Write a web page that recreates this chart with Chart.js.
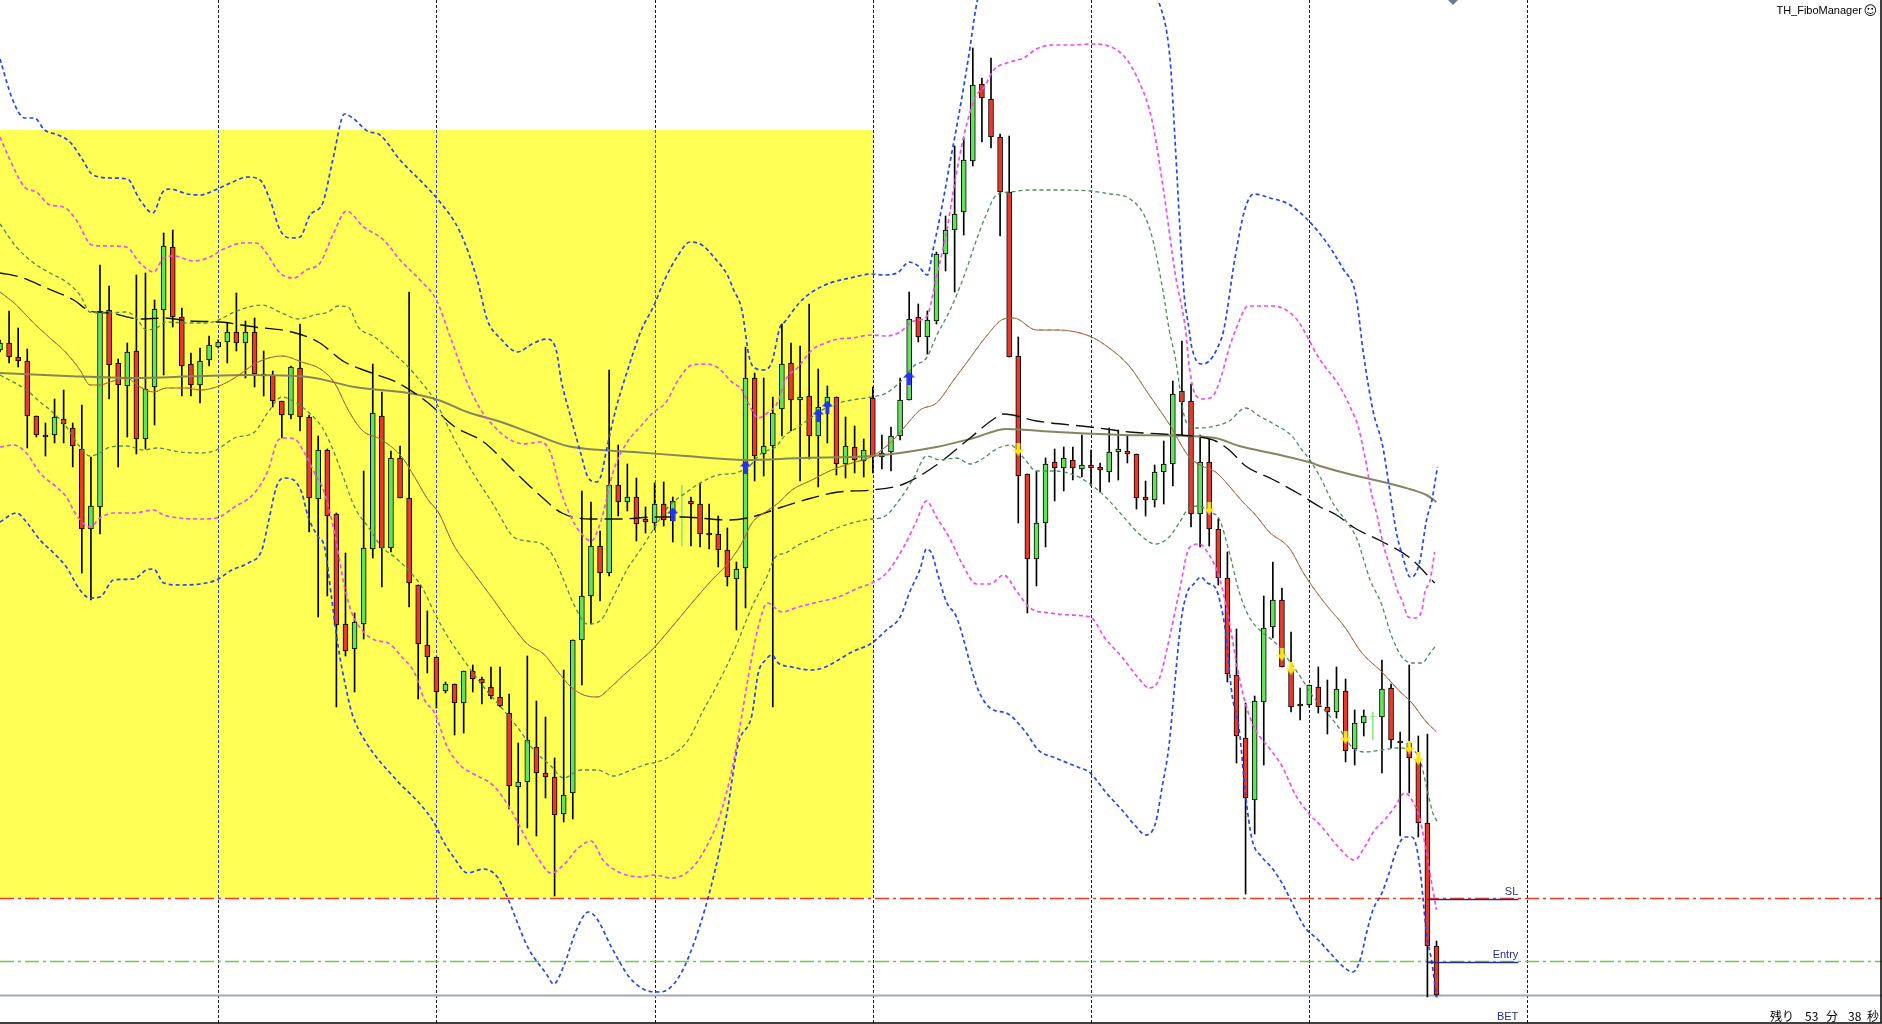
<!DOCTYPE html>
<html><head><meta charset="utf-8">
<script src="https://cdn.jsdelivr.net/npm/chart.js@4.4.1/dist/chart.umd.min.js"></script>
<style>html,body{margin:0;padding:0;background:#fff;overflow:hidden}#wrap{position:relative;width:1882px;height:1024px}</style>
</head><body><div id="wrap"><canvas id="c"></canvas></div>
<script>
// ---- candles (H1 bars, index 0..158) ----
const open  = [674,681,667,663,608,589,589,605,596,575,495,517,714,661,638,673,585,637,714,777,707,660,639,664,677,682,692,681,692,650,649,623,609,656,607,525,574,510,400,375,400,475,608,476,566,526,439,379,367,333,340,321,353,345,337,327,311,237,242,277,251,247,210,231,384,428,478,451,539,522,527,505,501,520,503,507,523,520,491,490,474,445,456,646,570,578,615,661,624,628,588,617,627,560,577,563,626,567,572,588,624,707,687,703,770,794,812,863,940,925,887,832,668,550,465,501,562,556,564,555,559,557,552,572,573,570,527,524,552,560,633,623,510,562,495,446,349,286,224,322,397,424,354,320,319,337,317,312,333,275,301,307,307,336,283,281,264,201,78];
const high  = [684,713,696,675,608,601,625,634,601,619,567,759,738,665,681,749,751,724,791,794,716,671,676,688,684,701,731,703,706,673,653,623,658,700,609,588,575,511,471,411,553,660,632,573,578,732,439,413,367,342,340,353,359,347,357,357,330,281,368,323,307,266,354,384,533,522,493,654,579,560,546,517,541,542,527,539,527,541,520,508,496,462,677,651,646,627,700,681,678,720,655,638,627,607,598,585,637,589,597,646,732,720,713,772,808,878,886,976,946,966,890,888,687,550,553,566,575,577,577,589,574,561,596,594,589,570,543,559,583,643,683,640,589,585,505,472,395,321,328,428,462,436,392,336,339,357,344,357,345,314,314,312,364,340,292,359,288,290,83];
const low   = [672,661,657,576,587,568,581,581,557,451,424,490,625,557,587,570,575,599,649,697,628,628,621,658,676,661,673,646,637,628,617,586,605,593,492,407,428,317,368,332,385,466,437,472,526,417,325,351,316,331,289,291,332,320,325,317,215,179,196,188,226,128,202,205,339,400,423,448,508,513,483,491,494,498,482,478,478,477,475,457,438,394,416,543,548,317,588,593,543,565,537,581,549,546,551,547,551,555,553,584,624,682,670,700,753,732,789,858,882,876,788,667,501,411,438,477,523,533,544,547,538,532,542,544,561,515,508,517,520,538,589,497,477,478,439,342,261,130,190,259,386,357,312,304,317,311,290,306,262,259,288,284,251,276,188,231,187,27,27];
const close = [681,667,663,608,589,587,607,600,578,495,518,713,659,639,672,585,635,715,778,707,658,639,663,679,682,692,681,692,650,648,623,609,657,607,526,574,508,399,373,402,476,611,476,566,526,441,380,367,332,340,321,353,345,341,328,318,238,242,284,251,247,209,229,384,428,478,451,539,522,527,500,502,520,504,523,507,520,490,489,474,447,455,646,568,578,611,660,624,627,588,617,627,560,578,564,574,567,571,588,624,705,687,704,770,794,810,864,939,926,887,832,667,548,465,501,560,556,566,556,559,556,554,572,575,570,526,524,552,560,630,622,510,562,495,446,350,288,226,323,396,424,357,317,318,339,317,312,335,273,301,308,307,335,284,281,266,201,78,29];

// ---- day separators (bar index at start of each day) ----
const daySeparators = [24,48,72,96,120,144,168];

// ---- highlighted zone, order levels ----
const zoneFrom = -2, zoneTo = 96, zoneTop = 894, zoneBottom = 126;
const stopLoss = 126, entryLevel = 63;
const orderFrom = 157, orderTo = 167;

// ---- signal arrows ----
const buyIdx  = [74, 82, 90, 91, 100];
const buyVal  = [510, 557, 609, 617, 646];
const sellIdx = [112, 133, 141, 142, 148, 155, 156];
const sellVal = [575, 516, 370, 356, 287, 277, 266];

// ---- Bollinger bands & moving averages, [barIndex, value] ----
const bbUpper3 = [[0,965],[1.4,924],[2.7,906],[3.8,906],[4.9,894],[6.4,889],[7.7,882],[9.1,864],[10.1,850],[12.1,846],[14,845],[15.4,824],[16.8,811],[17.9,832],[18.7,835],[20.6,830],[22,829],[23.9,835],[25.6,842],[27.2,847],[28.6,844],[29.7,824],[30.8,794],[31.9,786],[33,787],[34.1,809],[35.5,821],[36.6,864],[37.9,910],[38.8,906],[40.4,893],[41.8,889],[44,864],[46.5,841],[48.4,822],[50.6,792],[52.5,744],[53.6,704],[55.1,685],[56.9,672],[58.7,681],[60.2,685],[61.2,673],[61.7,645],[62.8,606],[63.9,570],[64.6,548],[65.6,542],[66.1,548],[66.8,578],[67.8,617],[69,653],[70.5,693],[71.9,718],[73.1,744],[74.6,769],[75.9,782],[77.2,779],[78.6,766],[80,749],[80.7,734],[81.6,714],[82.4,667],[83,656],[84,654],[84.9,662],[85.8,697],[86.3,702],[87.9,721],[89.3,732],[91.3,741],[93.5,746],[95.9,750],[97.1,749],[98.7,751],[100,762],[101,758],[102,749],[102.6,773],[103.6,817],[104.5,862],[105.4,906],[106.1,943],[106.7,977],[107.3,1014],[108.3,1054],[110,1094],[115.5,1124],[121,1114],[125.4,1064],[127.4,1024],[128.7,964],[129.3,874],[130.2,734],[130.8,694],[131.1,676],[132.1,660],[133,663],[133.9,676],[134.6,694],[135.8,764],[136.9,814],[137.9,830],[139.7,826],[141.9,819],[145.2,790],[147.8,754],[149.1,730],[150,668],[151,614],[152.1,577],[152.9,531],[153.6,491],[154.3,467],[155.1,447],[155.6,449],[156.2,464],[156.9,504],[157.5,524],[158.1,557]];
const bbLower3 = [[0,502],[1.8,511],[2.9,502],[4.4,484],[5.9,471],[7.3,457],[8.8,434],[9.9,426],[11,427],[12.5,444],[14.7,445],[16.1,454],[16.9,455],[18,441],[19.8,439],[22,440],[23.8,444],[25.5,454],[27.3,461],[28.8,474],[29.5,501],[30.4,537],[31.2,546],[32.3,544],[33.2,531],[33.9,507],[35,487],[35.7,477],[36.5,424],[37.2,377],[38.1,334],[38.7,311],[40.1,284],[43.6,244],[46.2,220],[47.7,202],[48.8,182],[49.9,167],[51.4,151],[53.2,155],[54.7,147],[55.6,131],[58.1,76],[60.1,50],[60.9,40],[62,58],[63.4,94],[64.7,112],[65.6,106],[67.3,76],[69.3,46],[71.3,33],[72.6,32],[74.6,46],[76.6,88],[78.5,148],[79.9,208],[81.2,280],[82.7,309],[83.4,351],[84.2,364],[84.9,369],[85.6,361],[87.1,357],[89.3,354],[90.8,357],[92.2,364],[93.7,372],[95.9,381],[97.5,394],[99,407],[100.1,433],[101.2,455],[101.9,475],[102.5,470],[103.2,448],[104.1,422],[105.2,407],[107.6,334],[108.9,316],[110.9,310],[112.8,292],[114.2,274],[116.1,266],[118.8,256],[119.8,252],[121.6,232],[123.4,214],[124.9,198],[126,189],[127.1,201],[127.8,236],[128.6,280],[129.3,349],[129.9,403],[130.6,432],[131.3,440],[132.1,447],[132.8,441],[133.7,436],[134.3,418],[134.8,392],[135.5,330],[136.3,294],[137,229],[137.7,185],[138.8,167],[139.9,156],[141,141],[141.8,127],[143.5,97],[145,84],[146.5,69],[147.9,56],[148.8,52],[149.6,64],[150.3,91],[151,114],[152,131],[152.9,154],[153.6,174],[154.5,187],[155.3,187],[155.8,177],[156.2,154],[156.5,127],[156.9,91],[157.5,61],[158,27]];
const bbUpper2 = [[0,887],[1.1,864],[2.7,837],[4,832],[5.5,819],[7,817],[8.4,804],[10.1,779],[12.1,778],[13.9,777],[15.4,761],[16.9,752],[18,766],[19.1,768],[21.3,763],[23.1,767],[24.6,775],[26.8,781],[28.2,781],[29.3,771],[30.8,751],[32.3,746],[33.7,754],[35.2,761],[36.7,791],[38.1,813],[40,797],[42.2,784],[44,764],[46.2,744],[48,724],[49.6,685],[51.4,641],[52.9,614],[54.3,598],[55.8,586],[57.6,580],[59.5,582],[60.6,570],[61.5,538],[62.8,507],[63.9,491],[65,483],[66.1,503],[67.5,554],[69,582],[70.5,598],[71.9,612],[73.2,621],[74.6,644],[76.1,659],[77.6,660],[79,656],[80.5,642],[81.6,634],[82.3,621],[83.4,606],[84.4,611],[85.5,621],[86.4,644],[87.8,657],[89.3,674],[90.8,681],[92.2,685],[93.7,686],[95.9,689],[97.5,688],[99,692],[100.5,703],[101.9,707],[103,747],[104.1,792],[105.2,851],[106.3,899],[107.4,929],[108.2,936],[109.3,954],[111.1,962],[112.6,966],[114,975],[115.8,979],[118,979],[119.9,980],[123.4,970],[125.4,940],[126.7,904],[128,832],[129.3,748],[130.4,694],[130.8,658],[131.5,629],[132.4,625],[133.5,629],[134.3,647],[135.2,676],[135.9,694],[137.3,718],[139.9,718],[142.5,706],[145.2,664],[147.4,637],[148.5,617],[149.4,597],[149.9,577],[150.4,554],[150.7,537],[151.5,507],[152.1,481],[152.9,457],[153.8,431],[154.2,424],[154.9,407],[155.6,406],[156.4,414],[156.7,431],[157.3,444],[157.8,472]];
const bbLower2 = [[0,577],[1.5,579],[2.9,571],[4.4,551],[6.2,537],[7.3,527],[8.4,509],[9.9,497],[11,506],[12.5,511],[14.7,511],[16.9,514],[18,509],[19.8,506],[22,505],[23.8,506],[25.8,517],[28,531],[29.5,554],[30.6,584],[31.3,586],[32.4,585],[33.5,571],[34.6,551],[35.7,531],[36.8,491],[37.9,437],[38.7,411],[39.8,394],[41.2,384],[42.7,381],[44.2,367],[45.6,351],[46.7,324],[47.8,311],[49.2,277],[50.7,258],[52.1,250],[54.3,238],[56.2,214],[57.6,190],[59.1,167],[60.6,151],[62,159],[63.5,175],[65,183],[66.4,163],[68.3,151],[70.5,147],[71.9,149],[73.9,146],[75.9,154],[77.5,174],[79.2,209],[80.5,254],[81.6,309],[82.3,347],[83.4,397],[84.4,421],[86,412],[87.8,417],[90,422],[92.2,427],[94.4,436],[95.9,441],[97.5,451],[99.4,477],[100.8,503],[101.9,523],[103,507],[104.5,485],[105.9,459],[107.4,440],[108.9,440],[110.4,449],[111.8,433],[113.3,416],[115.5,411],[117.7,409],[119.9,407],[121.6,385],[123.4,367],[125.3,345],[126.4,336],[127.5,345],[128.6,385],[129.7,432],[130.8,476],[131.9,480],[133,469],[134.1,447],[135.2,403],[136.1,356],[137,320],[138.1,294],[139.6,276],[141,258],[142.5,229],[144,210],[145.4,197],[147.2,177],[149,164],[150.1,177],[151.2,194],[152.3,204],[153.4,217],[154.5,231],[155.3,224],[156.2,204],[156.9,171],[157.6,134],[158,114]];
const bbUpper1 = [[0,800],[1.8,777],[3.7,761],[5.5,751],[7.3,742],[8.8,729],[9.9,712],[11.7,711],[13.9,712],[15,706],[16.1,694],[17.2,696],[18.3,702],[20.5,701],[22.7,701],[24,704],[25.8,712],[28.8,719],[31,711],[32.8,705],[34.6,709],[36.1,712],[37.2,718],[38.3,717],[39.4,697],[41.2,687],[43.1,672],[44.9,657],[46.4,641],[47.8,624],[49.9,586],[52.1,550],[54.3,519],[56.5,487],[58,483],[59.8,479],[60.9,467],[62,444],[63.1,420],[64.6,400],[66.1,404],[67.5,428],[69,455],[70.5,475],[71.9,495],[73.5,517],[75.4,531],[77.6,544],[79,549],[80.9,551],[82.3,557],[83.8,571],[85.3,577],[86.4,589],[87.8,597],[89.3,607],[90.8,616],[92.2,621],[93.7,624],[95.9,627],[97.5,631],[99,642],[100.5,658],[101.9,666],[103,688],[104.5,714],[106,747],[107.4,784],[108.5,810],[109.6,829],[111.1,832],[113.3,834],[116.2,834],[119.9,833],[122.1,830],[124.3,825],[126.5,794],[127.9,734],[128.6,694],[129.3,665],[130.2,610],[130.8,598],[131.9,596],[133.7,598],[135.2,603],[137,616],[138.5,608],[140.3,599],[142.1,588],[143.2,574],[144,565],[145.2,547],[146.6,521],[148.2,501],[149.3,484],[150,464],[150.7,444],[151.9,421],[153.1,387],[154.2,367],[155.3,361],[156.4,361],[157.3,371],[158,379]];
const bbLower1 = [[0,649],[2.9,634],[4.4,622],[5.9,611],[7.3,597],[8.8,577],[9.9,568],[11,571],[12.1,577],[13.9,578],[15.8,574],[17.2,576],[19.8,572],[22,571],[23.8,574],[25.8,586],[28,592],[29.5,612],[31,627],[32.4,622],[33.9,612],[35.4,597],[36.5,577],[37.6,551],[39,517],[40.5,497],[42,477],[43.4,467],[44.9,454],[46.4,437],[47.8,411],[49.2,388],[51,364],[53.2,337],[55.1,317],[56.9,297],[58.7,274],[60.6,258],[62,246],[63.9,254],[65.7,254],[67.5,248],[69.4,254],[71.2,260],[72.3,262],[73.9,269],[75.7,284],[77.2,311],[79,341],[80.9,377],[82.7,417],[84.2,444],[85.3,467],[86.4,471],[87.8,479],[89.7,486],[91.5,494],[93.7,501],[95.9,505],[97.2,507],[99,525],[100.5,546],[101.9,568],[103.4,564],[105.2,566],[106.7,560],[108.2,566],[109.6,575],[111.1,579],[112.6,566],[114,553],[116.2,553],[118.4,548],[119.9,540],[121.6,527],[123.4,509],[125.3,490],[127.1,480],[128.6,487],[129.7,501],[130.8,516],[131.9,518],[133,512],[134.1,505],[135.2,472],[136.3,432],[137.4,407],[138.8,392],[140.3,381],[141.8,363],[143.2,345],[144.3,329],[145.7,314],[147.2,297],[148.7,277],[150.1,272],[152,274],[153.8,276],[155.3,274],[156.2,264],[156.9,237],[157.6,211],[158.1,202]];
const bbMiddle = [[0,732],[1.8,719],[3.7,701],[5.5,686],[7.3,671],[8.8,654],[9.9,639],[11,639],[12.1,642],[13.9,646],[15.4,637],[16.9,632],[18.3,636],[20.5,636],[22,634],[23.8,637],[25.8,646],[28.4,662],[31,668],[33.2,662],[35.4,654],[36.8,641],[38.3,614],[39.8,594],[42,584],[44.2,567],[45.6,547],[47.1,524],[48.2,512],[49.9,479],[52.1,451],[54.3,424],[56.2,400],[58,380],[59.8,370],[61.3,353],[62.8,337],[64.2,329],[65.7,327],[67.2,337],[68.6,349],[70.5,364],[71.8,375],[73.9,397],[76.1,421],[78.3,444],[80.1,461],[81.6,481],[82.7,501],[84.2,512],[85.6,521],[87.1,534],[89.3,544],[91.5,554],[93.7,561],[95.8,567],[97.9,581],[99.4,596],[101.2,614],[103,621],[104.9,644],[106.7,666],[108.5,688],[110.4,705],[111.5,706],[114,694],[116.2,694],[119.8,688],[122,676],[124.2,658],[126.4,629],[128.6,600],[130.8,567],[132.2,558],[133.7,552],[135.2,538],[136.6,523],[138.1,509],[139.6,492],[141.8,476],[143.5,449],[145.7,421],[147.9,397],[149.8,371],[152,352],[153.8,334],[155.3,321],[156.7,304],[158,292]];
const maSlow = [[0,751],[2.2,747],[5.1,736],[8.1,724],[9.9,713],[12.1,711],[15.4,705],[18,706],[20.9,703],[24.2,702],[28,697],[32.1,692],[35,682],[37.9,662],[40.9,651],[43.8,641],[47.1,621],[49.9,598],[53.2,582],[56.2,556],[59.1,531],[61.8,511],[65,505],[68.3,505],[71.9,507],[75,507],[80.1,504],[82.7,507],[86,517],[89.3,526],[92.2,532],[95.9,534],[99.4,540],[103,559],[106.7,586],[109.3,605],[110.4,610],[114,603],[119.9,597],[124.2,592],[127.8,590],[131.9,587],[133.7,583],[135.2,574],[137,558],[139.9,545],[142.9,530],[145.2,517],[147,509],[149,496],[152.1,482],[155.1,466],[157.8,441]];
const maLong = [[0,651],[7.3,648],[14.7,646],[22,648],[27.3,649],[33.9,647],[39,637],[44.9,631],[48.2,624],[51.4,612],[55.1,602],[58.7,590],[62.4,578],[66.1,574],[69.7,572],[75.4,568],[82,564],[88.2,566],[95.9,568],[103,577],[107.1,586],[110.7,595],[116.2,592],[123.4,589],[130.8,588],[133.7,586],[136.3,578],[140.3,570],[144.3,561],[145.2,558],[148.8,549],[152.6,541],[155.4,534],[156.9,529],[158,522]];

// ---- styling ----
const BULL = '#63e35b', BEAR = '#e8392b', DOJI = '#8ee88a';
const pts = a => a.map(([x, y]) => ({x, y}));
const idx = open.map((_, i) => i);
const bodyColor = idx.map(i => close[i] > open[i] ? BULL : (close[i] < open[i] ? BEAR : DOJI));
const bodyBorder = idx.map(i => close[i] === open[i] ? DOJI : '#000');
const wickColor = idx.map(i => close[i] === open[i] ? DOJI : '#000');

function arrowImg(color, up) {
  const c = document.createElement('canvas'); c.width = 11; c.height = 13;
  const g = c.getContext('2d'); g.fillStyle = color; g.beginPath();
  if (up) { g.moveTo(5.5,0); g.lineTo(11,6); g.lineTo(7.5,6); g.lineTo(7.5,13); g.lineTo(3.5,13); g.lineTo(3.5,6); g.lineTo(0,6); }
  else { g.moveTo(5.5,13); g.lineTo(11,7); g.lineTo(7.5,7); g.lineTo(7.5,0); g.lineTo(3.5,0); g.lineTo(3.5,7); g.lineTo(0,7); }
  g.closePath(); g.fill(); return c;
}

function line(label, data, color, dash, width, order) {
  return { type: 'line', label, data: pts(data), borderColor: color, borderDash: dash, borderWidth: width,
    pointRadius: 0, pointHoverRadius: 0, fill: false, cubicInterpolationMode: 'monotone', order };
}

const decor = {
  id: 'decor',
  beforeDatasetsDraw(chart) {
    const {ctx, scales: {x, y}} = chart;
    const W = chart.width, H = chart.height;
    ctx.save();
    const zx0 = x.getPixelForValue(zoneFrom), zx1 = x.getPixelForValue(zoneTo);
    const zy0 = y.getPixelForValue(zoneTop), zy1 = y.getPixelForValue(zoneBottom);
    ctx.fillStyle = '#ffff55';
    ctx.fillRect(zx0, zy0, zx1 - zx0, zy1 - zy0);
    daySeparators.forEach(d => {
      const px = Math.round(x.getPixelForValue(d)) + 0.5;
      ctx.lineWidth = 1; ctx.setLineDash([3, 2]); ctx.strokeStyle = '#1a1a1a';
      ctx.beginPath(); ctx.moveTo(px, 0); ctx.lineTo(px, H); ctx.stroke();
      if (px > zx0 && px < zx1 - 1) {
        ctx.save(); ctx.beginPath(); ctx.rect(zx0, zy0, zx1 - zx0, zy1 - zy0); ctx.clip();
        ctx.setLineDash([3, 2]); ctx.strokeStyle = '#2a3ee8';
        ctx.beginPath(); ctx.moveTo(px, 0); ctx.lineTo(px, H); ctx.stroke(); ctx.restore();
      }
    });
    const hline = (v, color, dash, w) => {
      const py = Math.round(y.getPixelForValue(v)) + 0.5;
      ctx.lineWidth = w; ctx.setLineDash(dash); ctx.strokeStyle = color;
      ctx.beginPath(); ctx.moveTo(0, py); ctx.lineTo(W, py); ctx.stroke();
    };
    hline(close[close.length - 1], '#a2aab2', [], 2);
    hline(stopLoss, '#f03a20', [14, 4, 3, 4], 1.5);
    hline(entryLevel, '#66d03a', [14, 4, 3, 4], 1.5);
    ctx.restore();
  },
  afterDatasetsDraw(chart) {
    const {ctx, scales: {x, y}} = chart;
    const W = chart.width, H = chart.height;
    ctx.save();
    const ox0 = x.getPixelForValue(orderFrom), ox1 = x.getPixelForValue(orderTo);
    ctx.strokeStyle = '#24308a'; ctx.lineWidth = 1.5; ctx.setLineDash([]);
    [stopLoss, entryLevel].forEach(v => {
      const py = Math.round(y.getPixelForValue(v)) + 1.5;
      ctx.beginPath(); ctx.moveTo(ox0, py); ctx.lineTo(ox1, py); ctx.stroke();
    });
    ctx.fillStyle = '#24308a'; ctx.font = '11px "Liberation Sans", Arial, sans-serif';
    ctx.textAlign = 'right'; ctx.textBaseline = 'alphabetic';
    ctx.fillText('SL', ox1, y.getPixelForValue(stopLoss) - 3);
    ctx.fillText('Entry', ox1, y.getPixelForValue(entryLevel) - 3);
    ctx.fillText('BET', ox1, H - 4);
    ctx.fillStyle = '#000'; ctx.textAlign = 'right';
    ctx.fillText('TH_FiboManager', 1862, 14);
    ctx.font = '13px "DejaVu Sans", sans-serif'; ctx.fillText('\u263A', 1877, 15);
    ctx.font = '12px "Noto Sans CJK JP", sans-serif'; ctx.textAlign = 'left'; ctx.textBaseline = 'middle';
    [['残り', 1770], ['53', 1805], ['分', 1826], ['38', 1848], ['秒', 1867]].forEach(([t, px]) => ctx.fillText(t, px, 1016));
    ctx.fillStyle = '#6b7a8f'; ctx.beginPath();
    ctx.moveTo(1448, 0); ctx.lineTo(1458, 0); ctx.lineTo(1453, 5); ctx.closePath(); ctx.fill();
    ctx.strokeStyle = '#000'; ctx.lineWidth = 1.5;
    ctx.beginPath(); ctx.moveTo(0, H - 1); ctx.lineTo(W - 1, H - 1); ctx.lineTo(W - 1, 0); ctx.stroke();
    ctx.restore();
  }
};

Chart.defaults.font.family = '"Liberation Sans", Arial, sans-serif';
new Chart(document.getElementById('c'), {
  type: 'bar',
  data: {
    datasets: [
      { label: 'wick', data: idx.map(i => ({x: i, y: [low[i], high[i]]})), backgroundColor: wickColor,
        barThickness: 1, grouped: false, order: 11, minBarLength: 1 },
      { label: 'body', data: idx.map(i => ({x: i, y: [open[i], close[i]]})), backgroundColor: bodyColor,
        borderColor: bodyBorder, borderWidth: 1, borderSkipped: false, barThickness: 5, grouped: false, order: 10, minBarLength: 1 },
      line('MA long', maLong, '#85855f', [], 2, 6),
      line('MA slow', maSlow, '#111', [18, 7], 1.4, 5),
      line('BB mid', bbMiddle, '#d94a2b', [], 1, 4),
      line('BB mid d', bbMiddle, '#5c9a68', [4, 4], 1, 3),
      line('BB +1', bbUpper1, '#4d8c5c', [4, 3], 1.3, 3),
      line('BB -1', bbLower1, '#4d8c5c', [4, 3], 1.3, 3),
      line('BB +2', bbUpper2, '#f04cf0', [4, 3], 1.7, 2),
      line('BB -2', bbLower2, '#f04cf0', [4, 3], 1.7, 2),
      line('BB +3', bbUpper3, '#2447f0', [4, 3], 1.7, 1),
      line('BB -3', bbLower3, '#2447f0', [4, 3], 1.7, 1),
      { type: 'scatter', label: 'buy', data: buyIdx.map((k, i) => ({x: k, y: buyVal[i]})), pointStyle: arrowImg('#1f30ff', true), order: 0 },
      { type: 'scatter', label: 'sell', data: sellIdx.map((k, i) => ({x: k, y: sellVal[i]})), pointStyle: arrowImg('#ffe41c', false), order: 0 }
    ]
  },
  options: {
    responsive: true, maintainAspectRatio: false, animation: false,
    layout: { padding: 0, autoPadding: false },
    plugins: { legend: { display: false }, tooltip: { enabled: false } },
    scales: {
      x: { type: 'linear', min: 0, max: 207, offset: false, display: false, grid: { display: false } },
      y: { type: 'linear', min: 0, max: 1024, display: false, grid: { display: false } }
    }
  },
  plugins: [decor]
});
</script>
</body></html>
